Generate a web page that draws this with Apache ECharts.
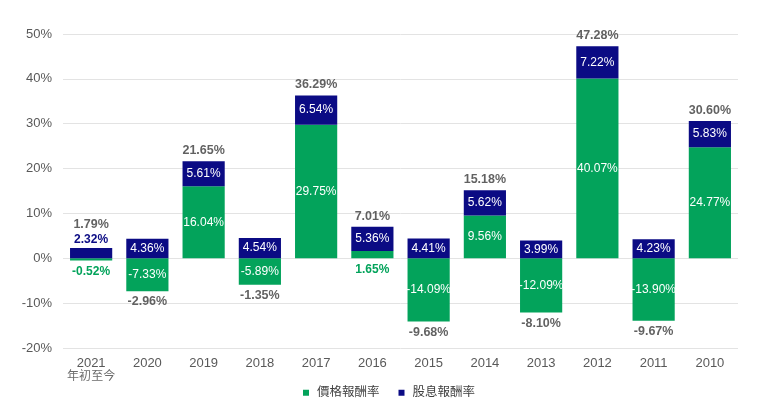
<!DOCTYPE html>
<html>
<head>
<meta charset="utf-8">
<script src="https://cdn.jsdelivr.net/npm/echarts@6/dist/echarts.min.js"></script>
<style>
html,body{margin:0;padding:0;background:#fff;}
#chart{width:760px;height:410px;}
</style>
</head>
<body>
<div id="chart"></div>
<script>
const categories = ['2021','2020','2019','2018','2017','2016','2015','2014','2013','2012','2011','2010'];
const categorySubLabels = ['年初至今','','','','','','','','','','',''];
const priceReturn = [-0.52,-7.33,16.04,-5.89,29.75,1.65,-14.09,9.56,-12.09,40.07,-13.90,24.77];
const dividendReturn = [2.32,4.36,5.61,4.54,6.54,5.36,4.41,5.62,3.99,7.22,4.23,5.83];
const totalReturn = [1.79,-2.96,21.65,-1.35,36.29,7.01,-9.68,15.18,-8.10,47.28,-9.67,30.60];
const seriesNames = ['價格報酬率','股息報酬率'];
const yMin = -20, yMax = 50, yStep = 10;

const GREEN = '#03A35B';
const NAVY = '#0B0B84';
const FONT = '"Liberation Sans", Arial, "Noto Sans CJK TC", sans-serif';
const SMALL = 2.5;

function fmt(v){ return v.toFixed(2) + '%'; }

function segData(values, color, isDividend){
  return values.map(function(v){
    const item = {value: v};
    if (Math.abs(v) < SMALL) {
      item.label = {
        position: isDividend ? 'top' : 'bottom',
        color: color,
        fontWeight: 'bold',
        distance: isDividend ? 2 : 5
      };
    }
    return item;
  });
}

const totalAnchor = totalReturn.map(function(t, i){
  const p = priceReturn[i], d = dividendReturn[i];
  const pos = (p > 0 ? p : 0) + (d > 0 ? d : 0);
  const neg = (p < 0 ? p : 0) + (d < 0 ? d : 0);
  const up = t >= 0;
  let extra = 0;
  if (up && d > 0 && Math.abs(d) < SMALL) extra = 13;
  return {
    value: up ? pos : neg,
    label: {position: up ? 'top' : 'bottom', distance: 4 + extra, formatter: fmt(t)}
  };
});

const chart = echarts.init(document.getElementById('chart'), null, {renderer: 'canvas'});
chart.setOption({
  animation: false,
  textStyle: {fontFamily: FONT},
  grid: {left: 63, right: 22, top: 34, bottom: 62, containLabel: false},
  legend: {
    data: seriesNames,
    bottom: 6,
    left: 298,
    icon: 'rect',
    itemWidth: 6,
    itemHeight: 6,
    itemGap: 19,
    textStyle: {fontSize: 12.5, color: '#404040', fontFamily: FONT, padding: [0, 0, 0, 3]}
  },
  xAxis: {
    type: 'category',
    data: categories,
    axisLine: {show: false},
    axisTick: {show: false},
    axisLabel: {
      interval: 0,
      margin: 9,
      fontSize: 13,
      color: '#595959',
      lineHeight: 13,
      formatter: function(v, i){
        const s = categorySubLabels[i];
        return s ? v + '\n{sub|' + s + '}' : v;
      },
      rich: {sub: {fontSize: 12, color: '#6b6b6b', lineHeight: 13, fontFamily: FONT}}
    }
  },
  yAxis: {
    type: 'value',
    min: yMin, max: yMax, interval: yStep,
    axisLine: {show: false},
    axisTick: {show: false},
    axisLabel: {fontSize: 13, color: '#595959', margin: 11, formatter: function(v){ return v + '%'; }},
    splitLine: {lineStyle: {color: '#e3e3e3', width: 1}}
  },
  series: [
    {
      name: seriesNames[0],
      type: 'bar',
      stack: 'total',
      barWidth: '75%',
      itemStyle: {color: GREEN},
      label: {show: true, position: 'inside', color: '#ffffff', fontSize: 12, fontFamily: FONT,
        formatter: function(p){ return fmt(p.value); }},
      data: segData(priceReturn, GREEN, false)
    },
    {
      name: seriesNames[1],
      type: 'bar',
      stack: 'total',
      barWidth: '75%',
      itemStyle: {color: NAVY},
      label: {show: true, position: 'inside', color: '#ffffff', fontSize: 12, fontFamily: FONT,
        formatter: function(p){ return fmt(p.value); }},
      data: segData(dividendReturn, NAVY, true)
    },
    {
      name: 'total',
      type: 'scatter',
      symbolSize: 1,
      silent: true,
      itemStyle: {color: 'rgba(0,0,0,0)'},
      label: {show: true, color: '#3a3a3a', fontWeight: 'bold', fontSize: 12.5, fontFamily: FONT},
      data: totalAnchor,
      z: 5
    }
  ]
});
</script>
</body>
</html>
